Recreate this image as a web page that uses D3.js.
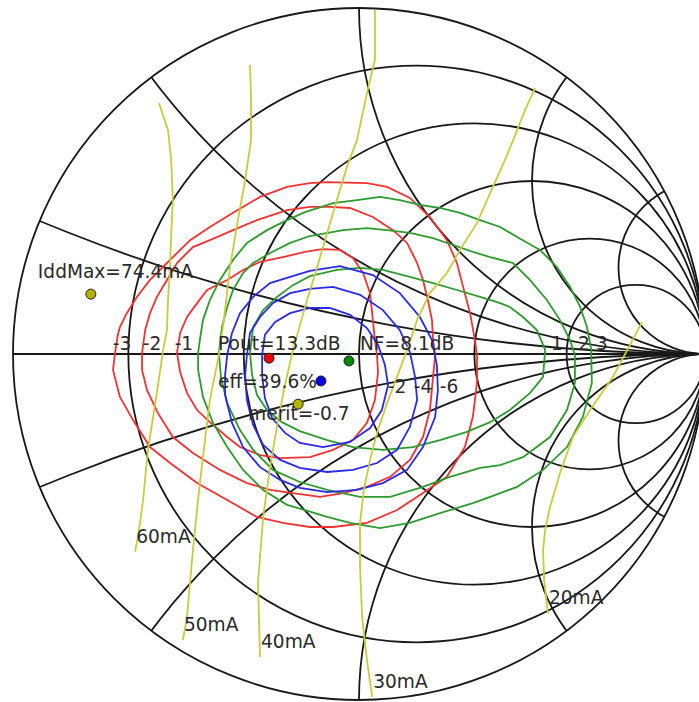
<!DOCTYPE html>
<html><head><meta charset="utf-8">
<script src="https://cdn.jsdelivr.net/npm/d3@7"></script>
<style>body{margin:0;background:#fff}svg{display:block}text{font-family:"DejaVu Sans",sans-serif}</style>
</head><body><svg id="c" width="699" height="702"></svg>
<script>
// ---- grid values (normalised impedance) ----
const resistanceCircles = [0.2, 0.5, 1, 2, 4];
const reactanceArcs = [0.2, 0.5, 1, 2, 4, -0.2, -0.5, -1, -2, -4];

// ---- contour data, reflection coefficient [re, im] ----
const poutLevels = ["-1", "-2", "-3"];
const poutContours = [
 [[-0.526,0.003],[-0.517,0.061],[-0.497,0.107],[-0.468,0.147],[-0.439,0.185],[-0.381,0.214],[-0.335,0.243],[-0.286,0.266],[-0.220,0.280],[-0.156,0.295],[-0.107,0.303],[-0.055,0.301],[-0.017,0.277],[0.012,0.234],[0.032,0.176],[0.038,0.118],[0.046,0.040],[0.052,-0.003],[0.055,-0.052],[0.046,-0.133],[0.023,-0.199],[-0.017,-0.248],[-0.075,-0.277],[-0.142,-0.298],[-0.228,-0.301],[-0.286,-0.292],[-0.344,-0.269],[-0.381,-0.240],[-0.431,-0.197],[-0.468,-0.162],[-0.497,-0.113],[-0.517,-0.052]],
 [[-0.627,0.003],[-0.618,0.069],[-0.604,0.118],[-0.584,0.165],[-0.555,0.214],[-0.526,0.263],[-0.480,0.309],[-0.431,0.329],[-0.364,0.358],[-0.295,0.387],[-0.208,0.416],[-0.142,0.425],[-0.084,0.425],[-0.026,0.422],[0.040,0.396],[0.098,0.358],[0.139,0.321],[0.168,0.263],[0.185,0.214],[0.199,0.156],[0.211,0.098],[0.214,0.040],[0.220,-0.003],[0.214,-0.066],[0.205,-0.162],[0.185,-0.240],[0.147,-0.306],[0.090,-0.355],[0.023,-0.384],[-0.046,-0.402],[-0.113,-0.413],[-0.191,-0.402],[-0.257,-0.393],[-0.324,-0.373],[-0.402,-0.335],[-0.480,-0.286],[-0.538,-0.240],[-0.581,-0.171],[-0.613,-0.104],[-0.627,-0.046]],
 [[-0.705,0.003],[-0.697,0.055],[-0.691,0.078],[-0.671,0.118],[-0.642,0.165],[-0.604,0.214],[-0.546,0.272],[-0.488,0.329],[-0.431,0.367],[-0.364,0.408],[-0.286,0.454],[-0.208,0.483],[-0.142,0.494],[-0.092,0.497],[0.023,0.494],[0.081,0.483],[0.147,0.451],[0.205,0.396],[0.254,0.329],[0.283,0.263],[0.301,0.194],[0.321,0.118],[0.335,0.040],[0.341,-0.003],[0.341,-0.084],[0.329,-0.182],[0.306,-0.269],[0.254,-0.355],[0.185,-0.402],[0.110,-0.451],[0.023,-0.488],[-0.075,-0.500],[-0.142,-0.500],[-0.220,-0.488],[-0.295,-0.471],[-0.381,-0.422],[-0.468,-0.373],[-0.546,-0.315],[-0.604,-0.269],[-0.653,-0.191],[-0.691,-0.124],[-0.711,-0.046]]
];
const poutLabelAt = [[-0.506,0.032],[-0.598,0.032],[-0.685,0.032]];

const nfLevels = ["1", "2", "3"];
const nfContours = [
 [[-0.315,0.003],[-0.306,0.078],[-0.277,0.127],[-0.237,0.165],[-0.191,0.199],[-0.142,0.225],[-0.064,0.243],[0.003,0.249],[0.069,0.243],[0.147,0.223],[0.214,0.205],[0.283,0.185],[0.350,0.165],[0.408,0.147],[0.436,0.136],[0.474,0.107],[0.514,0.069],[0.538,0.012],[0.532,-0.066],[0.494,-0.113],[0.436,-0.162],[0.379,-0.197],[0.312,-0.225],[0.234,-0.249],[0.156,-0.269],[0.069,-0.277],[-0.017,-0.269],[-0.092,-0.249],[-0.171,-0.223],[-0.223,-0.197],[-0.266,-0.162],[-0.295,-0.118],[-0.309,-0.061]],
 [[-0.405,0.003],[-0.396,0.078],[-0.381,0.136],[-0.364,0.185],[-0.335,0.234],[-0.306,0.263],[-0.257,0.292],[-0.199,0.321],[-0.142,0.341],[-0.046,0.358],[0.023,0.364],[0.081,0.358],[0.147,0.350],[0.214,0.335],[0.272,0.315],[0.329,0.295],[0.379,0.280],[0.445,0.263],[0.494,0.214],[0.543,0.156],[0.581,0.098],[0.610,0.040],[0.624,-0.003],[0.624,-0.084],[0.601,-0.162],[0.552,-0.240],[0.474,-0.298],[0.408,-0.321],[0.350,-0.329],[0.263,-0.355],[0.185,-0.384],[0.090,-0.413],[0.003,-0.413],[-0.092,-0.393],[-0.171,-0.370],[-0.249,-0.335],[-0.306,-0.277],[-0.344,-0.220],[-0.381,-0.142],[-0.399,-0.066]],
 [[-0.465,0.003],[-0.460,0.040],[-0.451,0.098],[-0.431,0.156],[-0.402,0.214],[-0.364,0.272],[-0.324,0.321],[-0.266,0.358],[-0.208,0.387],[-0.156,0.410],[-0.075,0.436],[-0.006,0.445],[0.061,0.454],[0.118,0.445],[0.176,0.431],[0.234,0.422],[0.292,0.408],[0.350,0.387],[0.408,0.367],[0.457,0.338],[0.523,0.301],[0.572,0.251],[0.610,0.194],[0.639,0.136],[0.659,0.078],[0.671,0.012],[0.673,-0.084],[0.647,-0.182],[0.601,-0.269],[0.532,-0.335],[0.457,-0.384],[0.379,-0.413],[0.329,-0.431],[0.234,-0.460],[0.147,-0.488],[0.061,-0.503],[-0.026,-0.488],[-0.092,-0.471],[-0.156,-0.451],[-0.208,-0.436],[-0.277,-0.393],[-0.335,-0.335],[-0.381,-0.269],[-0.422,-0.199],[-0.451,-0.124],[-0.465,-0.046]]
];
const nfLabelAt = [[0.572,0.032],[0.650,0.032],[0.702,0.032]];

const effLevels = ["-2", "-4", "-6"];
const effContours = [
 [[-0.280,-0.003],[-0.272,0.055],[-0.243,0.092],[-0.199,0.118],[-0.142,0.133],[-0.084,0.133],[-0.026,0.113],[0.023,0.075],[0.055,0.026],[0.075,-0.032],[0.084,-0.090],[0.066,-0.162],[0.032,-0.214],[-0.026,-0.254],[-0.104,-0.269],[-0.171,-0.257],[-0.214,-0.228],[-0.251,-0.185],[-0.272,-0.127],[-0.280,-0.061]],
 [[-0.324,-0.003],[-0.315,0.061],[-0.286,0.107],[-0.249,0.147],[-0.199,0.176],[-0.142,0.188],[-0.075,0.194],[0.003,0.171],[0.069,0.127],[0.118,0.069],[0.147,0.006],[0.162,-0.066],[0.168,-0.133],[0.147,-0.211],[0.110,-0.277],[0.052,-0.315],[-0.017,-0.335],[-0.092,-0.341],[-0.171,-0.329],[-0.228,-0.306],[-0.277,-0.263],[-0.306,-0.205],[-0.324,-0.133],[-0.329,-0.061]],
 [[-0.381,-0.003],[-0.367,0.061],[-0.344,0.118],[-0.306,0.165],[-0.257,0.205],[-0.199,0.223],[-0.142,0.240],[-0.055,0.254],[0.040,0.228],[0.118,0.176],[0.176,0.107],[0.211,0.040],[0.225,-0.032],[0.228,-0.104],[0.220,-0.182],[0.185,-0.269],[0.139,-0.335],[0.069,-0.373],[-0.006,-0.393],[-0.092,-0.399],[-0.171,-0.387],[-0.228,-0.364],[-0.286,-0.327],[-0.335,-0.269],[-0.367,-0.199],[-0.387,-0.118],[-0.387,-0.061]]
];
const effLabelAt = [[0.110,-0.092],[0.185,-0.092],[0.260,-0.092]];

// drain current contours
const iddLabels = ["60mA", "50mA", "40mA", "30mA", "20mA"];
const iddLines = [
 [[-0.578,0.725],[-0.552,0.647],[-0.543,0.561],[-0.538,0.445],[-0.543,0.344],[-0.546,0.251],[-0.552,0.156],[-0.555,0.069],[-0.566,0.012],[-0.581,-0.090],[-0.595,-0.182],[-0.610,-0.277],[-0.624,-0.422],[-0.636,-0.509],[-0.647,-0.572]],
 [[-0.315,0.835],[-0.312,0.734],[-0.312,0.618],[-0.329,0.503],[-0.350,0.387],[-0.373,0.251],[-0.387,0.127],[-0.402,0.012],[-0.431,-0.133],[-0.460,-0.373],[-0.480,-0.566],[-0.497,-0.760],[-0.509,-0.827]],
 [[0.046,0.994],[0.046,0.850],[0.023,0.754],[-0.006,0.618],[-0.035,0.540],[-0.064,0.445],[-0.092,0.350],[-0.121,0.251],[-0.150,0.156],[-0.191,0.012],[-0.214,-0.090],[-0.234,-0.191],[-0.257,-0.327],[-0.277,-0.471],[-0.292,-0.662],[-0.286,-0.876]],
 [[0.509,0.769],[0.480,0.705],[0.457,0.647],[0.422,0.561],[0.387,0.483],[0.341,0.379],[0.292,0.301],[0.254,0.234],[0.205,0.176],[0.168,0.098],[0.139,0.012],[0.110,-0.066],[0.081,-0.142],[0.052,-0.228],[0.032,-0.306],[0.014,-0.393],[0.003,-0.488],[0.003,-0.616],[0.009,-0.760],[0.023,-0.884],[0.038,-0.991]],
 [[0.818,0.092],[0.783,0.026],[0.734,-0.066],[0.668,-0.162],[0.618,-0.240],[0.581,-0.344],[0.552,-0.442],[0.538,-0.509],[0.532,-0.566],[0.535,-0.653],[0.546,-0.749]]
];

// optimum points
const markerNames = ["IddMax=74.4mA", "Pout=13.3dB", "NF=8.1dB", "eff=39.6%", "merit=-0.7"];
const markerGamma = [[-0.775,0.173],[-0.260,-0.012],[-0.029,-0.020],[-0.110,-0.078],[-0.176,-0.145]];

// ---- drawing ----
const W = 699, H = 702;
const sx = d3.scaleLinear().domain([-1, 1]).range([13, 705]);
const sy = d3.scaleLinear().domain([-1, 1]).range([700, 8]);
const svg = d3.select("#c");
svg.append("rect").attr("width", W).attr("height", H).attr("fill", "#fff");
const unitR = sx(1) - sx(0);

svg.append("defs").append("clipPath").attr("id", "uc")
  .append("circle").attr("cx", sx(0)).attr("cy", sy(0)).attr("r", unitR);

const gridColor = "#181818", gw = 1.8;
const grid = svg.append("g").attr("fill", "none").attr("stroke", gridColor).attr("stroke-width", gw);
const clipped = grid.append("g").attr("clip-path", "url(#uc)");
// reactance arcs: centre (1, 1/x), radius 1/|x|
clipped.selectAll("circle.x").data(reactanceArcs).join("circle")
  .attr("cx", sx(1)).attr("cy", d => sy(1 / d)).attr("r", d => unitR / Math.abs(d));
// resistance circles: centre (r/(r+1), 0), radius 1/(r+1)
grid.selectAll("circle.r").data(resistanceCircles).join("circle")
  .attr("cx", d => sx(d / (d + 1))).attr("cy", sy(0)).attr("r", d => unitR / (d + 1));
grid.append("line").attr("x1", sx(-1)).attr("x2", sx(1)).attr("y1", sy(0)).attr("y2", sy(0));
grid.append("circle").attr("cx", sx(0)).attr("cy", sy(0)).attr("r", unitR);

const closed = d3.line().x(d => sx(d[0])).y(d => sy(d[1])).curve(d3.curveLinearClosed);
const open = d3.line().x(d => sx(d[0])).y(d => sy(d[1])).curve(d3.curveLinear);

function contourSet(data, color) {
  svg.append("g").attr("fill", "none").attr("stroke", color).attr("stroke-width", 1.8)
    .selectAll("path").data(data).join("path").attr("d", closed);
}
const cRed = "#f03232", cGreen = "#2f9a2f", cBlue = "#2a2ae6", cYel = "#caca3c";
contourSet(poutContours, cRed);
contourSet(nfContours, cGreen);
contourSet(effContours, cBlue);

svg.append("g").attr("fill", "none").attr("stroke", cYel).attr("stroke-width", 1.8)
  .selectAll("path").data(iddLines).join("path").attr("d", open);

const txt = "#2a2a2a", fs = 18.6;
// Idd labels at the lower end of each line
svg.append("g").selectAll("text").data(iddLines).join("text")
  .attr("x", d => sx(d[d.length - 1][0]) + 1).attr("y", d => sy(d[d.length - 1][1]) - 9)
  .attr("font-size", fs).attr("fill", txt).text((d, i) => iddLabels[i]);

function levelLabels(pos, labels) {
  svg.append("g").selectAll("text").data(pos).join("text")
    .attr("x", d => sx(d[0])).attr("y", d => sy(d[1])).attr("dy", "0.36em")
    .attr("text-anchor", "middle").attr("font-size", fs).attr("fill", txt)
    .text((d, i) => labels[i]);
}
levelLabels(poutLabelAt, poutLevels);
levelLabels(nfLabelAt, nfLevels);
levelLabels(effLabelAt, effLevels);

// optimum markers
const markerFill = ["#b4b400", "#ee0000", "#008a00", "#0000ee", "#b4b400"];
const labelOffset = [[-53, -16, "start"], [-51, -8, "start"], [11, -11, "start"], [-4, 7, "end"], [-50, 16, "start"]];
svg.append("g").selectAll("circle").data(markerGamma).join("circle")
  .attr("cx", d => sx(d[0])).attr("cy", d => sy(d[1])).attr("r", 5)
  .attr("fill", (d, i) => markerFill[i]).attr("stroke", "#222").attr("stroke-width", 1);
svg.append("g").selectAll("text").data(markerGamma).join("text")
  .attr("x", (d, i) => sx(d[0]) + labelOffset[i][0]).attr("y", (d, i) => sy(d[1]) + labelOffset[i][1])
  .attr("text-anchor", (d, i) => labelOffset[i][2])
  .attr("font-size", fs).attr("fill", txt).text((d, i) => markerNames[i]);
</script></body></html>
